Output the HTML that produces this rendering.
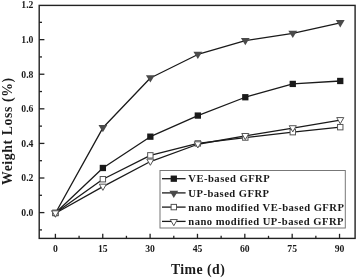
<!DOCTYPE html><html><head><meta charset="utf-8"><style>html,body{margin:0;padding:0;background:#fff;}svg{display:block;will-change:transform;}text{font-family:"Liberation Serif",serif;font-weight:bold;fill:#1a1a1a;}</style></head><body>
<svg width="357" height="278" viewBox="0 0 357 278">
<rect x="0" y="0" width="357" height="278" fill="#fff"/>
<line x1="39.2" y1="229.90" x2="42.0" y2="229.90" stroke="#222" stroke-width="1.3"/>
<line x1="39.2" y1="212.60" x2="44.400000000000006" y2="212.60" stroke="#222" stroke-width="1.3"/>
<line x1="39.2" y1="195.30" x2="42.0" y2="195.30" stroke="#222" stroke-width="1.3"/>
<line x1="39.2" y1="178.01" x2="44.400000000000006" y2="178.01" stroke="#222" stroke-width="1.3"/>
<line x1="39.2" y1="160.71" x2="42.0" y2="160.71" stroke="#222" stroke-width="1.3"/>
<line x1="39.2" y1="143.42" x2="44.400000000000006" y2="143.42" stroke="#222" stroke-width="1.3"/>
<line x1="39.2" y1="126.12" x2="42.0" y2="126.12" stroke="#222" stroke-width="1.3"/>
<line x1="39.2" y1="108.82" x2="44.400000000000006" y2="108.82" stroke="#222" stroke-width="1.3"/>
<line x1="39.2" y1="91.53" x2="42.0" y2="91.53" stroke="#222" stroke-width="1.3"/>
<line x1="39.2" y1="74.23" x2="44.400000000000006" y2="74.23" stroke="#222" stroke-width="1.3"/>
<line x1="39.2" y1="56.94" x2="42.0" y2="56.94" stroke="#222" stroke-width="1.3"/>
<line x1="39.2" y1="39.64" x2="44.400000000000006" y2="39.64" stroke="#222" stroke-width="1.3"/>
<line x1="39.2" y1="22.34" x2="42.0" y2="22.34" stroke="#222" stroke-width="1.3"/>
<line x1="55.40" y1="238.4" x2="55.40" y2="233.8" stroke="#222" stroke-width="1.3"/>
<line x1="102.75" y1="238.4" x2="102.75" y2="233.8" stroke="#222" stroke-width="1.3"/>
<line x1="150.11" y1="238.4" x2="150.11" y2="233.8" stroke="#222" stroke-width="1.3"/>
<line x1="197.47" y1="238.4" x2="197.47" y2="233.8" stroke="#222" stroke-width="1.3"/>
<line x1="244.82" y1="238.4" x2="244.82" y2="233.8" stroke="#222" stroke-width="1.3"/>
<line x1="292.18" y1="238.4" x2="292.18" y2="233.8" stroke="#222" stroke-width="1.3"/>
<line x1="339.53" y1="238.4" x2="339.53" y2="233.8" stroke="#222" stroke-width="1.3"/>
<line x1="79.08" y1="238.4" x2="79.08" y2="235.8" stroke="#222" stroke-width="1.3"/>
<line x1="126.43" y1="238.4" x2="126.43" y2="235.8" stroke="#222" stroke-width="1.3"/>
<line x1="173.79" y1="238.4" x2="173.79" y2="235.8" stroke="#222" stroke-width="1.3"/>
<line x1="221.14" y1="238.4" x2="221.14" y2="235.8" stroke="#222" stroke-width="1.3"/>
<line x1="268.50" y1="238.4" x2="268.50" y2="235.8" stroke="#222" stroke-width="1.3"/>
<line x1="315.85" y1="238.4" x2="315.85" y2="235.8" stroke="#222" stroke-width="1.3"/>
<rect x="39.2" y="5.4" width="315.90000000000003" height="233.0" fill="none" stroke="#222" stroke-width="1.4"/>
<text x="33.4" y="216.00" font-size="9.7" text-anchor="end">0.0</text>
<text x="33.4" y="181.41" font-size="9.7" text-anchor="end">0.2</text>
<text x="33.4" y="146.82" font-size="9.7" text-anchor="end">0.4</text>
<text x="33.4" y="112.22" font-size="9.7" text-anchor="end">0.6</text>
<text x="33.4" y="77.63" font-size="9.7" text-anchor="end">0.8</text>
<text x="33.4" y="43.04" font-size="9.7" text-anchor="end">1.0</text>
<text x="33.4" y="8.45" font-size="9.7" text-anchor="end">1.2</text>
<text x="55.40" y="252.2" font-size="9.7" text-anchor="middle">0</text>
<text x="102.75" y="252.2" font-size="9.7" text-anchor="middle">15</text>
<text x="150.11" y="252.2" font-size="9.7" text-anchor="middle">30</text>
<text x="197.47" y="252.2" font-size="9.7" text-anchor="middle">45</text>
<text x="244.82" y="252.2" font-size="9.7" text-anchor="middle">60</text>
<text x="292.18" y="252.2" font-size="9.7" text-anchor="middle">75</text>
<text x="339.53" y="252.2" font-size="9.7" text-anchor="middle">90</text>
<text x="170.9" y="273.9" font-size="13.8" letter-spacing="0.45">Time (d)</text>
<text transform="translate(12.0,185.0) rotate(-90)" font-size="13.8" letter-spacing="0.59">Weight Loss (%)</text>
<polyline points="55.40,213.26 102.88,127.81 150.35,78.00 197.83,54.48 245.30,40.64 292.77,33.38 340.25,22.83" fill="none" stroke="#1a1a1a" stroke-width="1.3" stroke-linejoin="round"/>
<polyline points="55.40,212.95 102.88,167.98 150.35,136.67 197.83,115.57 245.30,97.24 292.77,83.92 340.25,80.98" fill="none" stroke="#1a1a1a" stroke-width="1.3" stroke-linejoin="round"/>
<polyline points="55.40,212.95 102.88,179.22 150.35,155.35 197.83,143.42 245.30,137.54 292.77,132.17 340.25,127.16" fill="none" stroke="#1a1a1a" stroke-width="1.3" stroke-linejoin="round"/>
<polyline points="55.40,213.26 102.88,186.62 150.35,161.54 197.83,144.25 245.30,135.94 292.77,128.16 340.25,120.03" fill="none" stroke="#1a1a1a" stroke-width="1.3" stroke-linejoin="round"/>
<rect x="52.25" y="209.80" width="6.30" height="6.30" fill="#1a1a1a"/>
<rect x="99.72" y="164.83" width="6.30" height="6.30" fill="#1a1a1a"/>
<rect x="147.20" y="133.52" width="6.30" height="6.30" fill="#1a1a1a"/>
<rect x="194.68" y="112.42" width="6.30" height="6.30" fill="#1a1a1a"/>
<rect x="242.15" y="94.09" width="6.30" height="6.30" fill="#1a1a1a"/>
<rect x="289.62" y="80.77" width="6.30" height="6.30" fill="#1a1a1a"/>
<rect x="337.10" y="77.83" width="6.30" height="6.30" fill="#1a1a1a"/>
<polygon points="51.00,210.51 59.80,210.51 55.40,217.81" fill="#4a4a4a"/>
<polygon points="98.47,125.06 107.28,125.06 102.88,132.36" fill="#4a4a4a"/>
<polygon points="145.95,75.25 154.75,75.25 150.35,82.55" fill="#4a4a4a"/>
<polygon points="193.43,51.73 202.23,51.73 197.83,59.03" fill="#4a4a4a"/>
<polygon points="240.90,37.89 249.70,37.89 245.30,45.19" fill="#4a4a4a"/>
<polygon points="288.38,30.63 297.17,30.63 292.77,37.93" fill="#4a4a4a"/>
<polygon points="335.85,20.08 344.65,20.08 340.25,27.38" fill="#4a4a4a"/>
<rect x="52.70" y="210.25" width="5.40" height="5.40" fill="#fff" stroke="#555" stroke-width="1"/>
<rect x="100.17" y="176.52" width="5.40" height="5.40" fill="#fff" stroke="#555" stroke-width="1"/>
<rect x="147.65" y="152.65" width="5.40" height="5.40" fill="#fff" stroke="#555" stroke-width="1"/>
<rect x="195.13" y="140.72" width="5.40" height="5.40" fill="#fff" stroke="#555" stroke-width="1"/>
<rect x="242.60" y="134.84" width="5.40" height="5.40" fill="#fff" stroke="#555" stroke-width="1"/>
<rect x="290.07" y="129.47" width="5.40" height="5.40" fill="#fff" stroke="#555" stroke-width="1"/>
<rect x="337.55" y="124.46" width="5.40" height="5.40" fill="#fff" stroke="#555" stroke-width="1"/>
<polygon points="51.85,210.81 58.95,210.81 55.40,217.01" fill="#fff" stroke="#555" stroke-width="1" stroke-linejoin="miter"/>
<polygon points="99.33,184.17 106.42,184.17 102.88,190.37" fill="#fff" stroke="#555" stroke-width="1" stroke-linejoin="miter"/>
<polygon points="146.80,159.09 153.90,159.09 150.35,165.29" fill="#fff" stroke="#555" stroke-width="1" stroke-linejoin="miter"/>
<polygon points="194.28,141.80 201.38,141.80 197.83,148.00" fill="#fff" stroke="#555" stroke-width="1" stroke-linejoin="miter"/>
<polygon points="241.75,133.49 248.85,133.49 245.30,139.69" fill="#fff" stroke="#555" stroke-width="1" stroke-linejoin="miter"/>
<polygon points="289.22,125.71 296.32,125.71 292.77,131.91" fill="#fff" stroke="#555" stroke-width="1" stroke-linejoin="miter"/>
<polygon points="336.70,117.58 343.80,117.58 340.25,123.78" fill="#fff" stroke="#555" stroke-width="1" stroke-linejoin="miter"/>
<rect x="160.0" y="170.5" width="185.3" height="57.5" fill="#fff" stroke="#777" stroke-width="1"/>
<line x1="162" y1="178.7" x2="185.6" y2="178.7" stroke="#1a1a1a" stroke-width="1.3"/>
<rect x="170.65" y="175.55" width="6.30" height="6.30" fill="#1a1a1a"/>
<text x="188.3" y="182.30" font-size="10.6" letter-spacing="0.48">VE-based GFRP</text>
<line x1="162" y1="192.9" x2="185.6" y2="192.9" stroke="#1a1a1a" stroke-width="1.3"/>
<polygon points="169.40,190.75 178.20,190.75 173.80,198.05" fill="#4a4a4a"/>
<text x="188.3" y="196.50" font-size="10.6" letter-spacing="0.48">UP-based GFRP</text>
<line x1="162" y1="207.1" x2="185.6" y2="207.1" stroke="#1a1a1a" stroke-width="1.3"/>
<rect x="171.10" y="204.40" width="5.40" height="5.40" fill="#fff" stroke="#555" stroke-width="1"/>
<text x="188.3" y="210.70" font-size="10.6" letter-spacing="0.48">nano modified VE-based GFRP</text>
<line x1="162" y1="221.4" x2="185.6" y2="221.4" stroke="#1a1a1a" stroke-width="1.3"/>
<polygon points="170.25,219.55 177.35,219.55 173.80,225.75" fill="#fff" stroke="#555" stroke-width="1" stroke-linejoin="miter"/>
<text x="188.3" y="225.00" font-size="10.6" letter-spacing="0.48">nano modified UP-based GFRP</text>
</svg></body></html>
